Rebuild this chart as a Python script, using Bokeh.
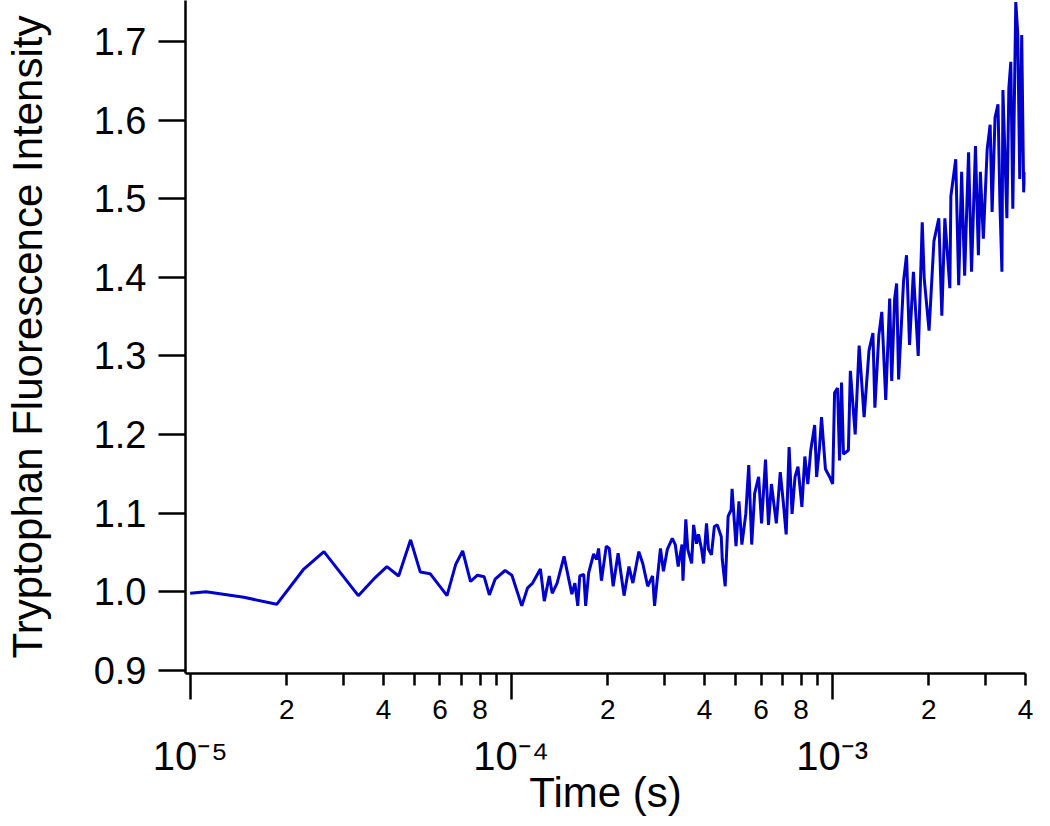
from bokeh.plotting import figure
from bokeh.models import (LogAxis, FixedTicker, Range1d,
                          CustomJSTickFormatter, PrintfTickFormatter)
from bokeh.embed import file_html
from bokeh.resources import INLINE

# ---------------- data ----------------
time_s = [
    1.00e-5, 1.12e-5, 1.47e-5, 1.86e-5, 2.25e-5, 2.61e-5, 3.34e-5, 3.77e-5,
    4.10e-5, 4.46e-5, 4.86e-5, 5.21e-5, 5.59e-5, 6.31e-5, 6.72e-5, 7.06e-5,
    7.47e-5, 7.85e-5, 8.24e-5, 8.55e-5, 8.91e-5, 9.57e-5, 1.005e-4, 1.079e-4,
    1.125e-4, 1.166e-4, 1.233e-4, 1.268e-4, 1.314e-4, 1.342e-4, 1.390e-4, 1.461e-4,
    1.545e-4, 1.579e-4, 1.612e-4, 1.635e-4, 1.683e-4, 1.706e-4, 1.743e-4, 1.806e-4,
    1.845e-4, 1.871e-4, 1.910e-4, 1.978e-4, 2.020e-4, 2.078e-4, 2.153e-4, 2.247e-4,
    2.327e-4, 2.393e-4, 2.498e-4, 2.569e-4, 2.662e-4, 2.757e-4, 2.796e-4, 2.917e-4,
    2.980e-4, 3.065e-4, 3.175e-4, 3.244e-4, 3.313e-4, 3.405e-4, 3.428e-4, 3.499e-4,
    3.548e-4, 3.648e-4, 3.700e-4, 3.778e-4, 3.833e-4, 3.918e-4, 3.973e-4, 4.059e-4,
    4.117e-4, 4.204e-4, 4.294e-4, 4.386e-4, 4.512e-4, 4.544e-4, 4.641e-4, 4.740e-4,
    4.842e-4, 4.876e-4, 5.015e-4, 5.122e-4, 5.231e-4, 5.380e-4, 5.495e-4, 5.613e-4,
    5.733e-4, 5.898e-4, 6.024e-4, 6.197e-4, 6.330e-4, 6.465e-4, 6.697e-4, 6.889e-4,
    7.036e-4, 7.187e-4, 7.340e-4, 7.497e-4, 7.658e-4, 7.822e-4, 8.045e-4, 8.217e-4,
    8.393e-4, 8.573e-4, 8.817e-4, 8.941e-4, 9.132e-4, 9.262e-4, 9.525e-4, 9.818e-4,
    1.003e-3, 1.017e-3, 1.039e-3, 1.054e-3, 1.069e-3, 1.084e-3, 1.123e-3, 1.139e-3,
    1.179e-3, 1.213e-3, 1.257e-3, 1.302e-3, 1.339e-3, 1.358e-3, 1.397e-3, 1.427e-3,
    1.468e-3, 1.510e-3, 1.532e-3, 1.565e-3, 1.587e-3, 1.610e-3, 1.668e-3, 1.704e-3,
    1.741e-3, 1.790e-3, 1.853e-3, 1.907e-3, 1.934e-3, 2.003e-3, 2.074e-3, 2.148e-3,
    2.195e-3, 2.243e-3, 2.325e-3, 2.342e-3, 2.425e-3, 2.477e-3, 2.530e-3, 2.585e-3,
    2.659e-3, 2.716e-3, 2.794e-3, 2.853e-3, 2.894e-3, 2.956e-3, 3.039e-3, 3.104e-3,
    3.148e-3, 3.215e-3, 3.284e-3, 3.331e-3, 3.378e-3, 3.402e-3, 3.500e-3, 3.550e-3,
    3.600e-3, 3.652e-3, 3.731e-3, 3.784e-3, 3.838e-3, 3.893e-3, 3.948e-3, 4.000e-3,
]
intensity = [
    0.998, 1.000, 0.993, 0.984, 1.028, 1.051, 0.995, 1.018,
    1.032, 1.020, 1.066, 1.025, 1.023, 0.995, 1.035, 1.052,
    1.013, 1.021, 1.019, 0.996, 1.016, 1.027, 1.021, 0.982,
    1.005, 1.011, 1.029, 0.988, 1.020, 0.998, 1.011, 1.045,
    0.997, 1.011, 0.982, 1.020, 1.022, 0.982, 1.024, 1.048,
    1.041, 1.055, 1.014, 1.058, 1.055, 1.007, 1.049, 0.995,
    1.032, 1.011, 1.051, 1.036, 1.007, 1.020, 0.982, 1.055,
    1.026, 1.054, 1.068, 1.060, 1.032, 1.060, 1.014, 1.092,
    1.054, 1.036, 1.085, 1.061, 1.073, 1.054, 1.036, 1.087,
    1.054, 1.047, 1.083, 1.085, 1.070, 1.041, 1.007, 1.096,
    1.104, 1.131, 1.058, 1.115, 1.060, 1.099, 1.161, 1.060,
    1.125, 1.146, 1.087, 1.168, 1.085, 1.137, 1.087, 1.152,
    1.115, 1.073, 1.184, 1.099, 1.146, 1.159, 1.108, 1.172,
    1.137, 1.180, 1.212, 1.146, 1.184, 1.222, 1.156, 1.146,
    1.137, 1.253, 1.259, 1.167, 1.266, 1.175, 1.180, 1.281,
    1.200, 1.313, 1.222, 1.307, 1.329, 1.234, 1.326, 1.356,
    1.244, 1.373, 1.268, 1.373, 1.392, 1.270, 1.395, 1.428,
    1.314, 1.407, 1.300, 1.470, 1.399, 1.332, 1.446, 1.475,
    1.351, 1.475, 1.386, 1.503, 1.550, 1.390, 1.534, 1.402,
    1.559, 1.407, 1.567, 1.428, 1.534, 1.449, 1.563, 1.594,
    1.483, 1.603, 1.620, 1.491, 1.407, 1.638, 1.475, 1.641,
    1.674, 1.487, 1.750, 1.710, 1.525, 1.708, 1.508, 1.534,
]

y_ticks = [0.9, 1.0, 1.1, 1.2, 1.3, 1.4, 1.5, 1.6, 1.7]
decade_ticks = [1e-5, 1e-4, 1e-3]
decade_labels = ["10\u207b\u2075", "10\u207b\u2074", "10\u207b\u00b3"]
minor_ticks = [2e-5, 3e-5, 4e-5, 5e-5, 6e-5, 7e-5, 8e-5, 9e-5,
               2e-4, 3e-4, 4e-4, 5e-4, 6e-4, 7e-4, 8e-4, 9e-4,
               2e-3, 3e-3, 4e-3]
minor_label_ticks = [2e-5, 4e-5, 6e-5, 8e-5, 2e-4, 4e-4, 6e-4, 8e-4, 2e-3, 4e-3]
minor_labels = ["2", "4", "6", "8", "2", "4", "6", "8", "2", "4"]

x_title = "Time (s)"
y_title = "Tryptophan Fluorescence Intensity"

X_START, X_END = 0.967e-5, 4.0e-3
Y_START, Y_END = 0.896, 1.752

FONT = "Liberation Sans"
BLACK = "#000000"

LOOKUP = ("for (let i = 0; i < tk.length; i++) {"
          " if (Math.abs(tk[i] - tick) <= 1e-6 * tk[i]) return lb[i]; }"
          " return '';")

p = figure(width=1034, height=818, x_axis_type="log",
           x_range=Range1d(X_START, X_END), y_range=Range1d(Y_START, Y_END),
           output_backend="svg", toolbar_location=None,
           min_border_left=179, min_border_right=9,
           min_border_top=0, min_border_bottom=0)
p.outline_line_color = None
p.grid.visible = False
p.background_fill_color = "white"
p.border_fill_color = "white"

p.line(time_s, intensity, line_color="#0000CC", line_width=3)

# --- bottom axis A: line + ticks, no labels
xa = p.xaxis[0]
xa.ticker = FixedTicker(ticks=decade_ticks, minor_ticks=minor_ticks)
xa.formatter = CustomJSTickFormatter(code="return ''")
xa.major_label_text_font_size = "1px"
xa.major_label_standoff = 0
xa.major_tick_out = 26
xa.major_tick_in = 0
xa.minor_tick_out = 12
xa.minor_tick_in = 0
xa.axis_line_width = 2.5
xa.major_tick_line_width = 2.5
xa.minor_tick_line_width = 2.5
xa.axis_line_color = BLACK
xa.major_tick_line_color = BLACK
xa.minor_tick_line_color = BLACK


def label_axis(ticks, labels, size, standoff):
    return LogAxis(
        ticker=FixedTicker(ticks=ticks, minor_ticks=[]),
        formatter=CustomJSTickFormatter(args=dict(tk=ticks, lb=labels), code=LOOKUP),
        axis_line_color=None, major_tick_line_color=None, minor_tick_line_color=None,
        major_tick_out=0, major_tick_in=0, minor_tick_out=0, minor_tick_in=0,
        major_label_standoff=standoff,
        major_label_text_font=FONT, major_label_text_font_size=size,
        major_label_text_color=BLACK,
    )


# --- bottom axis B: minor tick numbers
xb = label_axis(minor_label_ticks, minor_labels, "28px", 0)
p.add_layout(xb, "below")

# --- bottom axis D: decade labels + title
xd = label_axis(decade_ticks, decade_labels, "40px", 12)
xd.axis_label = x_title
xd.axis_label_standoff = -12
xd.axis_label_text_font = FONT
xd.axis_label_text_font_size = "42px"
xd.axis_label_text_font_style = "normal"
xd.axis_label_text_color = BLACK
xd.axis_label_text_line_height = 1.0
p.add_layout(xd, "below")

# --- left axis
ya = p.yaxis[0]
ya.ticker = FixedTicker(ticks=y_ticks, minor_ticks=[])
ya.formatter = PrintfTickFormatter(format="%.1f")
ya.major_tick_out = 27
ya.major_tick_in = 0
ya.minor_tick_out = 0
ya.minor_tick_in = 0
ya.major_label_standoff = 12
ya.major_label_text_font = FONT
ya.major_label_text_font_size = "38px"
ya.major_label_text_color = BLACK
ya.axis_line_width = 2.5
ya.major_tick_line_width = 2.5
ya.axis_line_color = BLACK
ya.major_tick_line_color = BLACK
ya.axis_label = y_title
ya.axis_label_standoff = 40
ya.axis_label_text_font = FONT
ya.axis_label_text_font_size = "42px"
ya.axis_label_text_font_style = "normal"
ya.axis_label_text_color = BLACK

open("out.html", "w").write(file_html(p, INLINE))
